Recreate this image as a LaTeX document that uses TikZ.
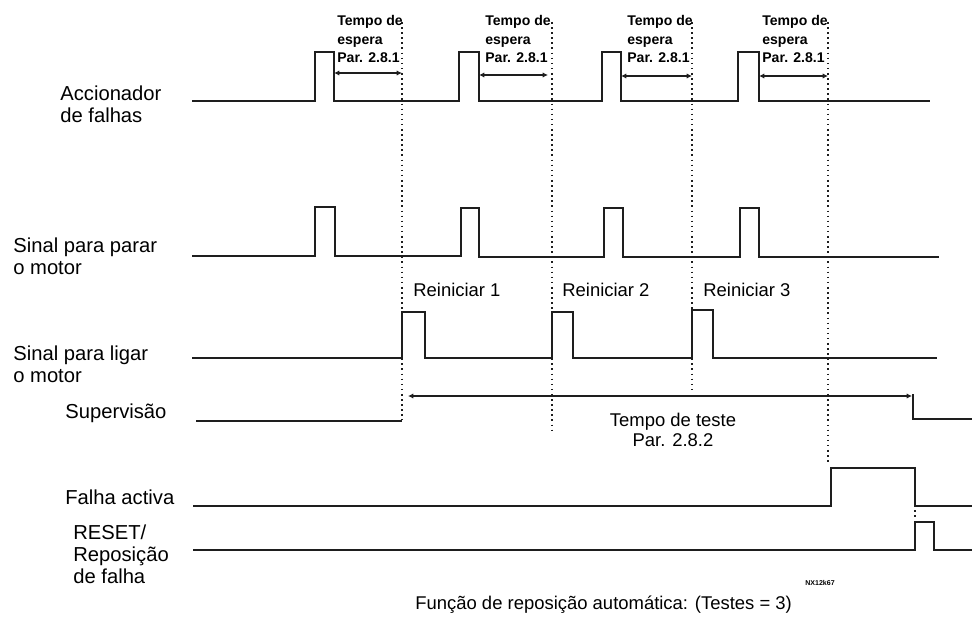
\documentclass[tikz,border=0pt]{standalone}
\usepackage{fontspec}
\setmainfont{Liberation Sans}
\usetikzlibrary{arrows.meta}
\definecolor{sigblack}{RGB}{30,30,30}

\begin{document}
\begin{tikzpicture}[x=0.02cm, y=-0.02cm,
  sig/.style={line width=1pt, color=sigblack},
  guide/.style={dotted, line width=0.9pt, color=sigblack},
  dim/.style={{Latex[length=3pt,width=3pt]}-{Latex[length=3pt,width=3pt]}, line width=0.8pt, color=sigblack},
  lbl/.style={anchor=west, align=left, inner sep=0pt, font=\fontsize{11.5}{12.5}\selectfont},
  wait/.style={anchor=west, align=left, inner sep=0pt, font=\bfseries\fontsize{8}{10.8}\selectfont},
  tag/.style={inner sep=0pt, font=\fontsize{10.5}{11.5}\selectfont}
]
  \useasboundingbox (0,0) rectangle (972,625);

  \node[lbl] (accion) at (60,104)  {Accionador\\de falhas};
  \node[lbl] (parar)  at (13,256)  {Sinal para parar\\o motor};
  \node[lbl] (ligar)  at (13,364)  {Sinal para ligar\\o motor};
  \node[lbl] (superv) at (65,413)  {Supervisão};
  \node[lbl] (falha)  at (65,497)  {Falha activa};
  \node[lbl] (reset)  at (73,554)  {RESET/\\Reposição\\de falha};

  \coordinate (g1) at (402,22);
  \coordinate (g2) at (552,22);
  \coordinate (g3) at (692,22);
  \coordinate (g4) at (828,22);

  \draw[guide] (g1) -- (402,420);
  \draw[guide] (g2) -- (552,430);
  \draw[guide] (g3) -- (692,390);
  \draw[guide] (g4) -- (828,465);
  \draw[guide] (915,505) -- (915,520);

  \draw[sig] (192,101) -- (315,101) -- (315,52) -- (334,52) -- (334,101) -- (459,101) -- (459,52) -- (479,52)
    -- (479,101) -- (602,101) -- (602,52) -- (621,52) -- (621,101) -- (738,101) -- (738,52) -- (759,52)
    -- (759,101) -- (930,101);
  \draw[sig] (192,256) -- (315,256) -- (315,207) -- (335,207) -- (335,256) -- (461,256) -- (461,208) -- (479,208)
    -- (479,257) -- (604,257) -- (604,208) -- (623,208) -- (623,257) -- (740,257) -- (740,208) -- (759,208)
    -- (759,257) -- (939,257);
  \draw[sig] (192,358) -- (402,358) -- (402,312) -- (425,312) -- (425,358) -- (552,358) -- (552,312) -- (573,312)
    -- (573,358) -- (692,358) -- (692,310) -- (713,310) -- (713,358) -- (937,358);
  \draw[sig] (196,421) -- (402,421);
  \draw[sig] (913,394) -- (913,419) -- (972,419);
  \draw[sig] (193,506) -- (831,506) -- (831,468) -- (915,468) -- (915,506) -- (972,506);
  \draw[sig] (193,550) -- (915,550) -- (915,522) -- (934,522) -- (934,550) -- (972,550);

  \node[wait] (wait1) at (337,39) {Tempo de\\espera\\Par. 2.8.1};
  \node[wait] (wait2) at (485,39) {Tempo de\\espera\\Par. 2.8.1};
  \node[wait] (wait3) at (627,39) {Tempo de\\espera\\Par. 2.8.1};
  \node[wait] (wait4) at (762,39) {Tempo de\\espera\\Par. 2.8.1};

  \draw[dim] (334,73) -- (g1 |- 0,73);
  \draw[dim] (479,75) -- (548,75);
  \draw[dim] (621,76) -- (g3 |- 0,76);
  \draw[dim] (759,76) -- (g4 |- 0,76);
  \draw[dim] (408,396) -- (912,396);

  \node[tag, anchor=west] (rein1) at (413,290) {Reiniciar 1};
  \node[tag, anchor=west] (rein2) at (562,290) {Reiniciar 2};
  \node[tag, anchor=west] (rein3) at (703,290) {Reiniciar 3};
  \node[tag, align=center] (teste) at (673,430) {Tempo de teste\\Par. 2.8.2};
  \node[tag, anchor=west] (funcao) at (415,605) {Função de reposição automática: (Testes = 3)};
  \node[inner sep=0pt, font=\bfseries\fontsize{4}{4}\selectfont] (code) at (820,583) {NX12k67};
\end{tikzpicture}
\end{document}
